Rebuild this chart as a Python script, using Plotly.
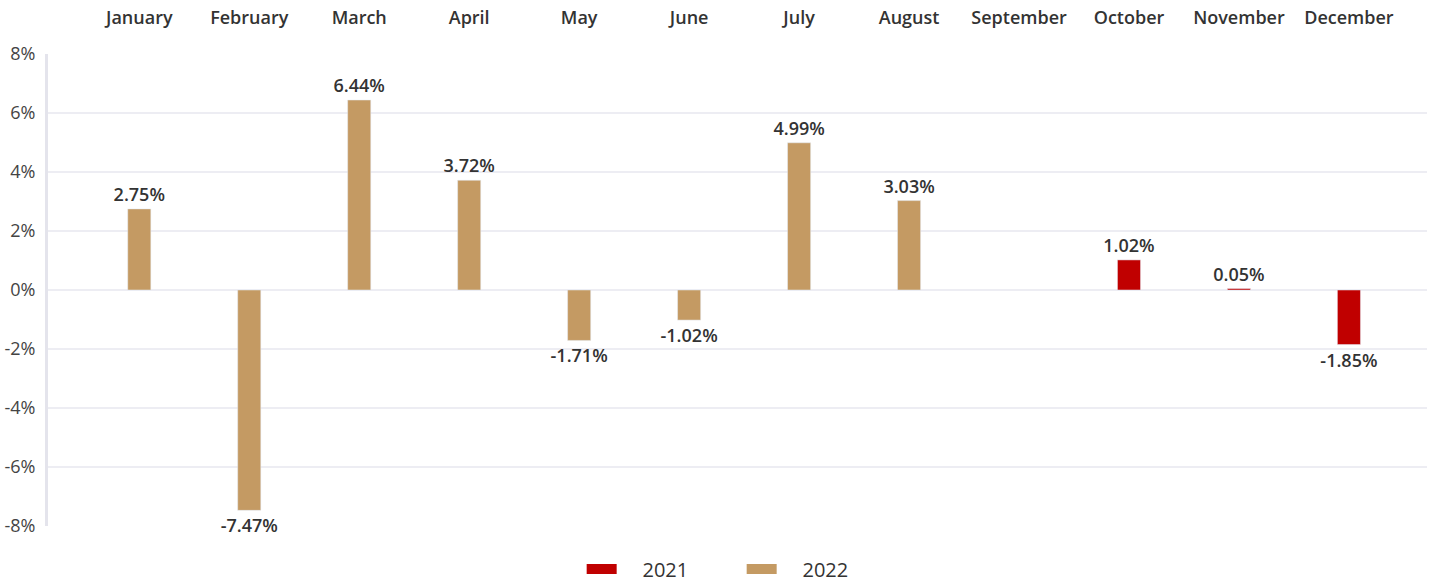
import plotly.graph_objects as go

months = ["January", "February", "March", "April", "May", "June", "July",
          "August", "September", "October", "November", "December"]
vals_2022 = [2.75, -7.47, 6.44, 3.72, -1.71, -1.02, 4.99, 3.03, None, None, None, None]
vals_2021 = [None, None, None, None, None, None, None, None, None, 1.02, 0.05, -1.85]
y_ticks = [-8, -6, -4, -2, 0, 2, 4, 6, 8]

C2021 = "#c00000"
C2022 = "#c49a63"

def labels(vals):
    return [("" if v is None else f"{v:.2f}%") for v in vals]

fig = go.Figure()
for name, vals, col in [("2022", vals_2022, C2022), ("2021", vals_2021, C2021)]:
    fig.add_trace(go.Bar(
        x=months, y=vals, name=name, marker_color=col, width=0.21,
        text=labels(vals), textposition="outside", cliponaxis=False,
        constraintext="none", textangle=0,
        textfont=dict(family="Open Sans", size=18, color="#333333", weight=600),
        showlegend=False,
    ))

NB = "\u00a0" * 4
for name, col in [("2021", C2021), ("2022", C2022)]:
    fig.add_trace(go.Scatter(
        x=[None], y=[None], mode="lines", name=NB + name,
        line=dict(color=col, width=12), showlegend=True,
    ))

fig.update_layout(
    width=1433, height=583,
    barmode="overlay",
    plot_bgcolor="white", paper_bgcolor="white",
    margin=dict(l=48, r=6, t=54, b=57, autoexpand=False),
    font=dict(family="Open Sans", color="#333333"),
    legend=dict(orientation="h", x=0.387, xanchor="left", y=-0.05, yanchor="top",
                font=dict(size=20, color="#333333"),
                entrywidth=115, entrywidthmode="pixels",
                traceorder="normal"),
    xaxis=dict(side="top", showgrid=False, zeroline=False, showline=False,
               automargin=False, range=[-0.83, 11.71],
               tickfont=dict(size=18, color="#333333", weight=600),
               ticklabelstandoff=25, categoryorder="array", categoryarray=months),
    yaxis=dict(range=[-8, 8], tickvals=y_ticks, ticktext=[f"{v}%" for v in y_ticks],
               showgrid=True, gridcolor="#ededf3", gridwidth=2, automargin=False,
               zeroline=False, showline=True, linecolor="#e4e4ec", linewidth=3,
               tickfont=dict(size=18, color="#444444"), ticklabelstandoff=6),
)

fig.write_html("out.html", config={"displayModeBar": False},
               post_script="document.body.style.margin='0';")
